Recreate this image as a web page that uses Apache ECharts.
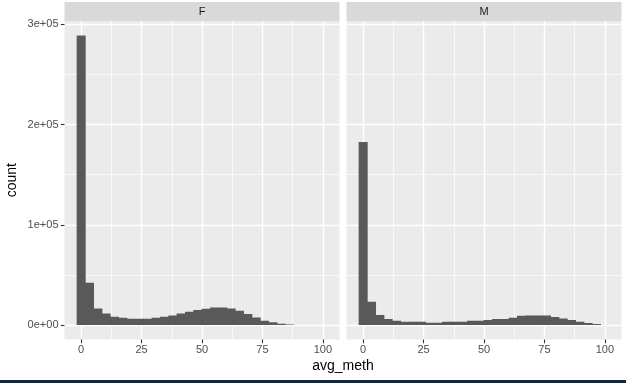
<!DOCTYPE html>
<html>
<head>
<meta charset="utf-8">
<script src="https://cdn.jsdelivr.net/npm/echarts@6/dist/echarts.min.js"></script>
<style>
html,body{margin:0;padding:0;background:#fff;}
#c{width:626px;height:383px;}
</style>
</head>
<body>
<div id="c"></div>
<script>
// ---- data ----
const panels = ['F', 'M'];
const binWidth = 3.448;
const binCenters = [0, 3.45, 6.90, 10.34, 13.79, 17.24, 20.69, 24.14, 27.59, 31.03,
  34.48, 37.93, 41.38, 44.83, 48.28, 51.72, 55.17, 58.62, 62.07, 65.52,
  68.97, 72.41, 75.86, 79.31, 82.76, 86.21, 89.66, 93.10, 96.55, 100];
const countF = [289000, 42200, 16600, 11600, 8300, 7300, 6300, 6300, 6300, 7300,
  8300, 9600, 11600, 13300, 15000, 16300, 17600, 17600, 16600, 14300,
  11000, 7600, 4300, 2700, 1300, 400, 0, 0, 0, 0];
const countM = [182700, 23300, 10000, 6000, 4300, 3300, 3300, 3300, 2300, 2300,
  3300, 3300, 3300, 4300, 4300, 5000, 6000, 6000, 7300, 9300,
  9600, 9600, 9600, 8000, 6600, 5000, 3300, 2000, 1000, 0];
const xMajor = [0, 25, 50, 75, 100];
const xMinor = [12.5, 37.5, 62.5, 87.5];
const yMajor = [0, 100000, 200000, 300000];
const yMinor = [50000, 150000, 250000];
const xTitle = 'avg_meth';
const yTitle = 'count';

// ---- layout ----
const xRange = [-6.9, 106.9];
const yRange = [-14450, 303450];
const gridTop = 21, gridH = 318.5, gridW = 275;
const gridLefts = [64.5, 346.5];
const font = 'Liberation Sans, Arial, sans-serif';

function sci(v) {
  if (v === 0) return '0e+00';
  const e = Math.floor(Math.log10(Math.abs(v)) + 1e-9);
  const m = Math.round(v / Math.pow(10, e) * 100) / 100;
  return m + 'e+' + String(e).padStart(2, '0');
}

function renderBars(params, api) {
  const c = api.value(0), v = api.value(1);
  if (!v) return null;
  const p0 = api.coord([c - binWidth / 2, v]);
  const p1 = api.coord([c + binWidth / 2, 0]);
  return {
    type: 'rect',
    shape: { x: p0[0] - 0.35, y: p0[1], width: p1[0] - p0[0] + 0.7, height: p1[1] - p0[1] },
    style: { fill: '#595959' }
  };
}

const grids = [], xAxes = [], yAxes = [], series = [], graphics = [];
const counts = [countF, countM];
panels.forEach((name, i) => {
  grids.push({ left: gridLefts[i], top: gridTop, width: gridW, height: gridH,
    show: true, backgroundColor: '#EBEBEB', borderWidth: 0, containLabel: false });
  // minor x
  xAxes.push({ type: 'value', gridIndex: i, min: xRange[0], max: xRange[1], position: 'top',
    axisLine: { show: false, onZero: false }, axisLabel: { show: false },
    axisTick: { show: false, customValues: xMinor },
    splitLine: { show: true, lineStyle: { color: '#FFFFFF', width: 0.7 } } });
  // major x
  xAxes.push({ type: 'value', gridIndex: i, min: xRange[0], max: xRange[1], position: 'bottom',
    axisLine: { show: false, onZero: false },
    axisTick: { show: true, length: 3.7, customValues: xMajor, lineStyle: { color: '#333333', width: 1.1 } },
    axisLabel: { show: true, customValues: xMajor, color: '#4D4D4D', fontSize: 11, fontFamily: font, margin: 5 },
    splitLine: { show: true, lineStyle: { color: '#FFFFFF', width: 1.4 } } });
  // minor y
  yAxes.push({ type: 'value', gridIndex: i, min: yRange[0], max: yRange[1], position: 'right',
    axisLine: { show: false, onZero: false }, axisLabel: { show: false },
    axisTick: { show: false, customValues: yMinor },
    splitLine: { show: true, lineStyle: { color: '#FFFFFF', width: 0.7 } } });
  // major y
  yAxes.push({ type: 'value', gridIndex: i, min: yRange[0], max: yRange[1], position: 'left',
    axisLine: { show: false, onZero: false },
    axisTick: { show: i === 0, length: 3.7, customValues: yMajor, lineStyle: { color: '#333333', width: 1.1 } },
    axisLabel: { show: i === 0, customValues: yMajor, formatter: sci, color: '#4D4D4D', fontSize: 11, fontFamily: font, margin: 6 },
    splitLine: { show: true, lineStyle: { color: '#FFFFFF', width: 1.4 } } });
  series.push({ type: 'custom', xAxisIndex: i * 2 + 1, yAxisIndex: i * 2 + 1,
    renderItem: renderBars, clip: true,
    data: binCenters.map((c, k) => [c, counts[i][k]]) });
  graphics.push({ type: 'rect', left: gridLefts[i], top: 2,
    shape: { width: gridW, height: 19 }, style: { fill: '#D9D9D9' } });
  graphics.push({ type: 'text', x: gridLefts[i] + gridW / 2, y: 11.5,
    style: { text: name, fill: '#1A1A1A', font: '11px ' + font, textAlign: 'center', textVerticalAlign: 'middle' } });
});
graphics.push({ type: 'text', x: gridLefts[0] + (gridLefts[1] + gridW - gridLefts[0]) / 2, y: 366.5,
  style: { text: xTitle, fill: '#000000', font: '14px ' + font, textAlign: 'center', textVerticalAlign: 'middle' } });
graphics.push({ type: 'text', x: 12, y: gridTop + gridH / 2, rotation: Math.PI / 2,
  style: { text: yTitle, fill: '#000000', font: '14px ' + font, textAlign: 'center', textVerticalAlign: 'middle' } });
graphics.push({ type: 'rect', left: 0, top: 380, shape: { width: 626, height: 3 }, style: { fill: '#13263A' } });

const chart = echarts.init(document.getElementById('c'), null, { renderer: 'canvas' });
chart.setOption({
  animation: false,
  backgroundColor: '#FFFFFF',
  grid: grids, xAxis: xAxes, yAxis: yAxes, series: series, graphic: graphics
});
</script>
</body>
</html>
